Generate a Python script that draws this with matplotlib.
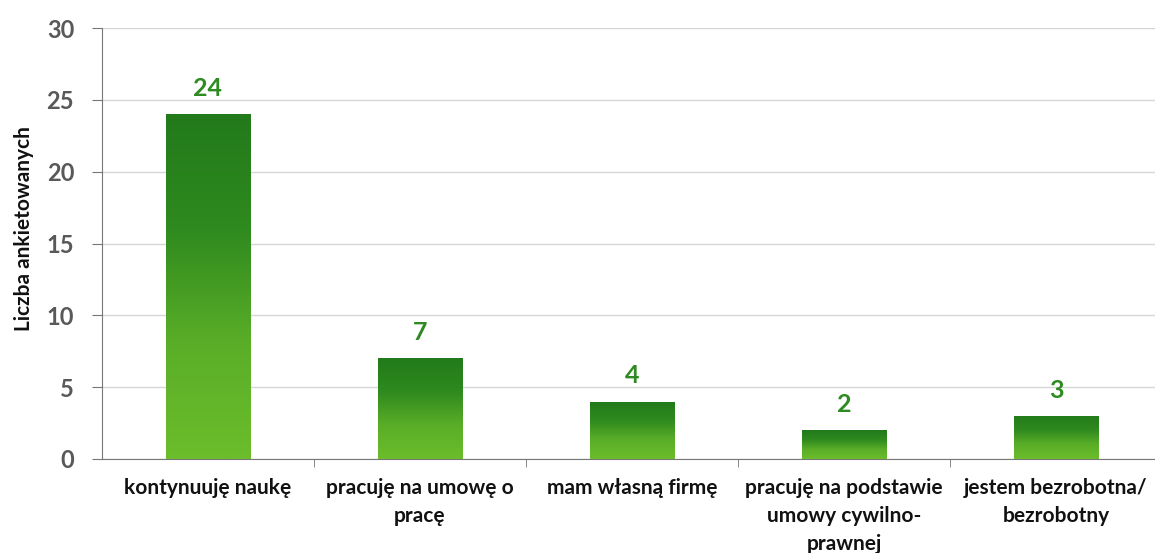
import matplotlib
matplotlib.use('Agg')
import matplotlib.pyplot as plt
import numpy as np
from matplotlib.colors import LinearSegmentedColormap

categories = ['kontynuuję naukę', 'pracuję na umowę o\npracę', 'mam własną firmę',
              'pracuję na podstawie\numowy cywilno-\nprawnej', 'jestem bezrobotna/\nbezrobotny']
values = [24, 7, 4, 2, 3]
yticks = [0, 5, 10, 15, 20, 25, 30]

plt.rcParams['font.family'] = ['Lato', 'DejaVu Sans']

fig = plt.figure(figsize=(11.55, 5.53), dpi=100)
ax = fig.add_axes([102/1155, 1-459/553, 1060/1155, 431/553])

x = np.arange(len(values))
bars = ax.bar(x, values, width=0.4, color='none', zorder=3)

# vertical gradient inside each bar: dark green at top, light green at bottom
cmap = LinearSegmentedColormap.from_list('g', ['#6cbd2c', '#5aae27', '#2f8a1f', '#227a1a'])
grad = np.linspace(0, 1, 256).reshape(-1, 1)
for b in bars:
    x0, y0 = b.get_x(), b.get_y()
    w, h = b.get_width(), b.get_height()
    im = ax.imshow(grad, cmap=cmap, origin='lower', aspect='auto',
                   extent=[x0, x0 + w, y0, y0 + h], zorder=3)
    im.set_clip_path(b)

for xi, v in zip(x, values):
    ax.text(xi, v + 1.0, str(v), ha='center', va='bottom', color='#2e8b22',
            fontsize=18, fontweight='bold')

ax.set_xlim(-0.5, len(values) - 0.5)
ax.set_ylim(0, 30)
ax.set_yticks(yticks)
ax.set_yticklabels([str(t) for t in yticks], fontsize=17, fontweight='bold', color='#595959')
ax.set_xticks(x)
ax.set_xticklabels(categories, fontsize=15, fontweight='bold', color='#111111',
                   linespacing=1.5)
ax.tick_params(axis='x', length=0, pad=14)
ax.set_xticks(np.arange(0.5, len(values) - 0.5, 1), minor=True)
ax.tick_params(axis='x', which='minor', length=6, color='#777777', direction='out')
ax.tick_params(axis='y', length=7, color='#777777', direction='out', pad=13)

fig.text(24/1155, 1-229/553, 'Liczba ankietowanych', rotation=90, ha='center', va='center',
         fontsize=15, fontweight='bold', color='#111111')

ax.grid(axis='y', color='#d6d6d6', linewidth=1, zorder=0)
ax.set_axisbelow(True)
for s in ['top', 'right']:
    ax.spines[s].set_visible(False)
ax.spines['left'].set_color('#777777')
ax.spines['bottom'].set_color('#777777')

fig.savefig('out.png', dpi=100)
